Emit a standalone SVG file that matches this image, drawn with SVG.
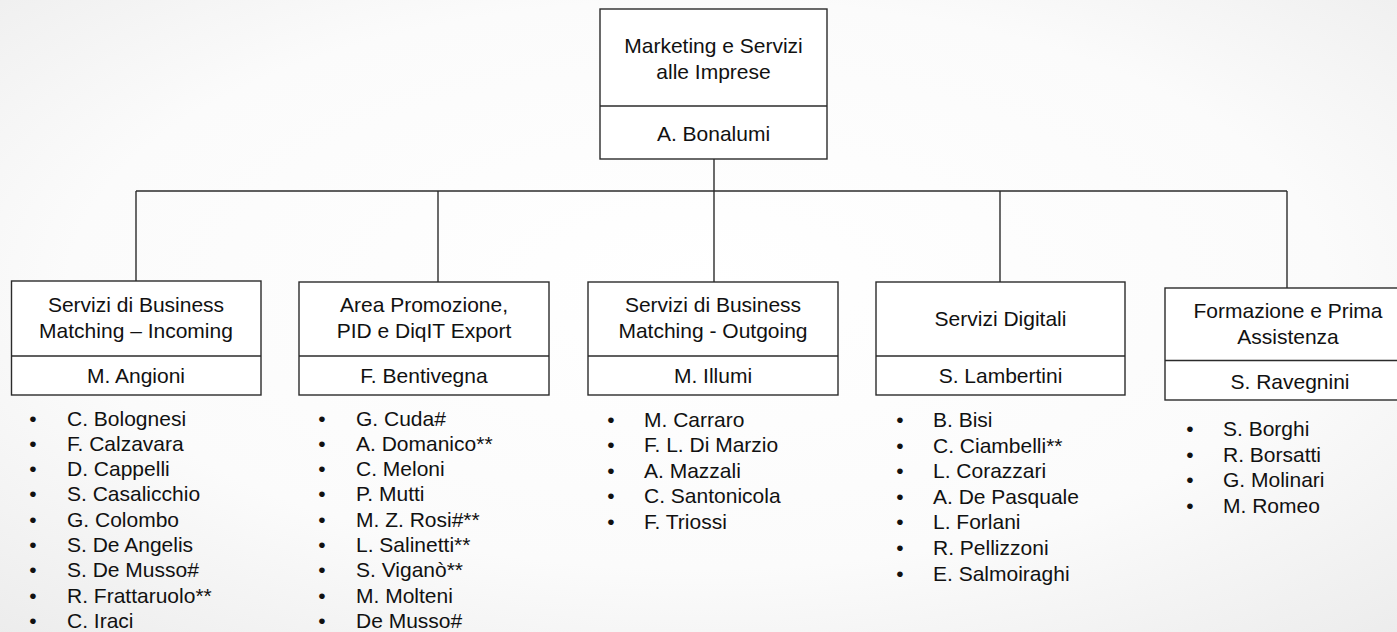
<svg xmlns="http://www.w3.org/2000/svg" width="1397" height="632" viewBox="0 0 1397 632">
<defs>
<radialGradient id="bg" cx="0.5" cy="0.45" r="0.75">
<stop offset="0" stop-color="#ffffff"/>
<stop offset="0.6" stop-color="#fbfbfb"/>
<stop offset="1" stop-color="#ececec"/>
</radialGradient>
<style>
.box{fill:#ffffff;stroke:#2b2b2b;stroke-width:1.4}
.div{stroke:#2b2b2b;stroke-width:1.4}
.con{stroke:#2b2b2b;stroke-width:1.4;fill:none}
text{font-family:"Liberation Sans",Arial,sans-serif;font-size:21px;fill:#111111}
.c{text-anchor:middle}
.b{text-anchor:middle}
</style>
</defs>
<rect x="0" y="0" width="1397" height="632" fill="url(#bg)"/>

<g id="connectors">
<line class="con" x1="714" y1="159" x2="714" y2="191"/>
<line class="con" x1="136" y1="191" x2="1287" y2="191"/>
<line class="con" x1="136" y1="191" x2="136" y2="281"/>
<line class="con" x1="438" y1="191" x2="438" y2="282"/>
<line class="con" x1="714" y1="191" x2="714" y2="282"/>
<line class="con" x1="1000" y1="191" x2="1000" y2="282"/>
<line class="con" x1="1287" y1="191" x2="1287" y2="288"/>
</g>

<g id="node-top">
<rect class="box" x="600" y="9" width="227" height="150"/>
<line class="div" x1="600" y1="106" x2="827" y2="106"/>
<text class="c" x="713.5" y="53">Marketing e Servizi</text>
<text class="c" x="713.5" y="79">alle Imprese</text>
<text class="c" x="713.5" y="141">A. Bonalumi</text>
</g>

<g id="node-incoming">
<rect class="box" x="11.5" y="281" width="249.5" height="114"/>
<line class="div" x1="11.5" y1="356" x2="261" y2="356"/>
<text class="c" x="136" y="312">Servizi di Business</text>
<text class="c" x="136" y="338">Matching – Incoming</text>
<text class="c" x="136" y="383">M. Angioni</text>
<g>
<text class="b" x="33" y="425.5">•</text><text x="67" y="425.5">C. Bolognesi</text>
<text class="b" x="33" y="450.8">•</text><text x="67" y="450.8">F. Calzavara</text>
<text class="b" x="33" y="476.1">•</text><text x="67" y="476.1">D. Cappelli</text>
<text class="b" x="33" y="501.4">•</text><text x="67" y="501.4">S. Casalicchio</text>
<text class="b" x="33" y="526.7">•</text><text x="67" y="526.7">G. Colombo</text>
<text class="b" x="33" y="552">•</text><text x="67" y="552">S. De Angelis</text>
<text class="b" x="33" y="577.3">•</text><text x="67" y="577.3">S. De Musso#</text>
<text class="b" x="33" y="602.6">•</text><text x="67" y="602.6">R. Frattaruolo**</text>
<text class="b" x="33" y="627.5">•</text><text x="67" y="627.5">C. Iraci</text>
</g>
</g>

<g id="node-promozione">
<rect class="box" x="299" y="282" width="250" height="113"/>
<line class="div" x1="299" y1="356" x2="549" y2="356"/>
<text class="c" x="424" y="312">Area Promozione,</text>
<text class="c" x="424" y="338">PID e DiqIT Export</text>
<text class="c" x="424" y="383">F. Bentivegna</text>
<g>
<text class="b" x="322" y="425.5">•</text><text x="356" y="425.5">G. Cuda#</text>
<text class="b" x="322" y="450.8">•</text><text x="356" y="450.8">A. Domanico**</text>
<text class="b" x="322" y="476.1">•</text><text x="356" y="476.1">C. Meloni</text>
<text class="b" x="322" y="501.4">•</text><text x="356" y="501.4">P. Mutti</text>
<text class="b" x="322" y="526.7">•</text><text x="356" y="526.7">M. Z. Rosi#**</text>
<text class="b" x="322" y="552">•</text><text x="356" y="552">L. Salinetti**</text>
<text class="b" x="322" y="577.3">•</text><text x="356" y="577.3">S. Viganò**</text>
<text class="b" x="322" y="602.6">•</text><text x="356" y="602.6">M. Molteni</text>
<text class="b" x="322" y="627.5">•</text><text x="356" y="627.5">De Musso#</text>
</g>
</g>

<g id="node-outgoing">
<rect class="box" x="588" y="282" width="250" height="113"/>
<line class="div" x1="588" y1="356" x2="838" y2="356"/>
<text class="c" x="713" y="312">Servizi di Business</text>
<text class="c" x="713" y="338">Matching - Outgoing</text>
<text class="c" x="713" y="383">M. Illumi</text>
<g>
<text class="b" x="611" y="427">•</text><text x="644" y="427">M. Carraro</text>
<text class="b" x="611" y="452.4">•</text><text x="644" y="452.4">F. L. Di Marzio</text>
<text class="b" x="611" y="477.8">•</text><text x="644" y="477.8">A. Mazzali</text>
<text class="b" x="611" y="503.2">•</text><text x="644" y="503.2">C. Santonicola</text>
<text class="b" x="611" y="528.6">•</text><text x="644" y="528.6">F. Triossi</text>
</g>
</g>

<g id="node-digitali">
<rect class="box" x="876" y="282" width="249" height="113"/>
<line class="div" x1="876" y1="356" x2="1125" y2="356"/>
<text class="c" x="1000.5" y="326">Servizi Digitali</text>
<text class="c" x="1000.5" y="383">S. Lambertini</text>
<g>
<text class="b" x="900" y="427">•</text><text x="933" y="427">B. Bisi</text>
<text class="b" x="900" y="452.6">•</text><text x="933" y="452.6">C. Ciambelli**</text>
<text class="b" x="900" y="478.2">•</text><text x="933" y="478.2">L. Corazzari</text>
<text class="b" x="900" y="503.8">•</text><text x="933" y="503.8">A. De Pasquale</text>
<text class="b" x="900" y="529.4">•</text><text x="933" y="529.4">L. Forlani</text>
<text class="b" x="900" y="555">•</text><text x="933" y="555">R. Pellizzoni</text>
<text class="b" x="900" y="580.6">•</text><text x="933" y="580.6">E. Salmoiraghi</text>
</g>
</g>

<g id="node-formazione">
<rect class="box" x="1165" y="288" width="250" height="112"/>
<line class="div" x1="1165" y1="360.5" x2="1415" y2="360.5"/>
<text class="c" x="1288" y="318">Formazione e Prima</text>
<text class="c" x="1288" y="344">Assistenza</text>
<text class="c" x="1290" y="389">S. Ravegnini</text>
<g>
<text class="b" x="1190" y="436">•</text><text x="1223" y="436">S. Borghi</text>
<text class="b" x="1190" y="461.6">•</text><text x="1223" y="461.6">R. Borsatti</text>
<text class="b" x="1190" y="487.2">•</text><text x="1223" y="487.2">G. Molinari</text>
<text class="b" x="1190" y="512.8">•</text><text x="1223" y="512.8">M. Romeo</text>
</g>
</g>
</svg>
